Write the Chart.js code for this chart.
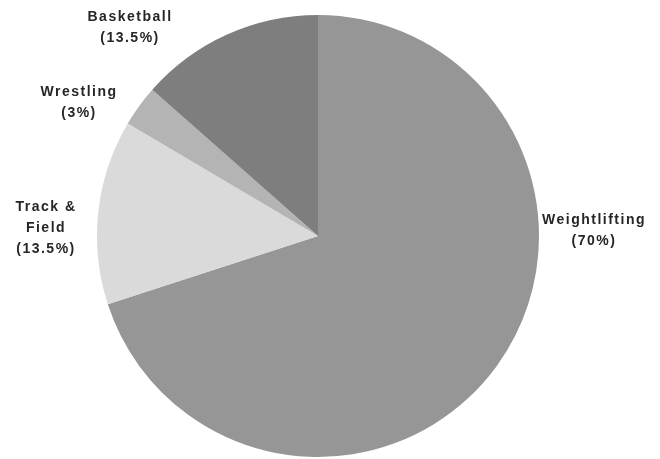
<!DOCTYPE html>
<html lang="en">

<head>
    <meta charset="UTF-8">
    <meta name="viewport" content="width=device-width, initial-scale=1.0">
    <title>Sport participation</title>
    <style>
        html, body {
            margin: 0;
            padding: 0;
            background: #fff;
        }

        .chart-box {
            width: 660px;
            height: 459px;
        }
    </style>
</head>

<body>
    <div class="chart-box">
        <canvas id="sportsPie"></canvas>
    </div>

    <script src="https://cdn.jsdelivr.net/npm/chart.js"></script>
    <script>
        // slices, clockwise from 12 o'clock
        const sports = [['Weightlifting'], ['Track &', 'Field'], ['Wrestling'], ['Basketball']];
        const shares = [70, 13.5, 3, 13.5];
        const sliceColors = ['#969696', '#dadada', '#b4b4b4', '#7e7e7e'];

        // where each label's first baseline sits, relative to the pie centre
        const labelAnchors = [
            { dx: 275, dy: -12 },
            { dx: -273, dy: -25 },
            { dx: -240, dy: -140 },
            { dx: -189, dy: -215 }
        ];

        const outsideLabels = {
            id: 'outsideLabels',
            afterDatasetsDraw(chart) {
                const ctx = chart.ctx;
                const arcs = chart.getDatasetMeta(0).data;
                ctx.save();
                ctx.font = 'bold 14px "Liberation Sans", Arial, sans-serif';
                ctx.letterSpacing = '1.5px';
                ctx.fillStyle = '#262626';
                ctx.textAlign = 'center';
                ctx.textBaseline = 'alphabetic';
                arcs.forEach((arc, i) => {
                    const lines = [...chart.data.labels[i], '(' + chart.data.datasets[0].data[i] + '%)'];
                    const x = arc.x + labelAnchors[i].dx + 1;
                    let y = arc.y + labelAnchors[i].dy;
                    lines.forEach(line => {
                        ctx.fillText(line, x, y);
                        y += 21;
                    });
                });
                ctx.restore();
            }
        };

        new Chart(document.getElementById('sportsPie'), {
            type: 'pie',
            data: {
                labels: sports,
                datasets: [{
                    data: shares,
                    backgroundColor: sliceColors,
                    borderWidth: 0
                }]
            },
            options: {
                responsive: true,
                maintainAspectRatio: false,
                animation: false,
                layout: {
                    padding: { left: 97, right: 121, top: 15, bottom: 2 }
                },
                plugins: {
                    legend: { display: false },
                    tooltip: { enabled: false }
                }
            },
            plugins: [outsideLabels]
        });
    </script>
</body>

</html>
